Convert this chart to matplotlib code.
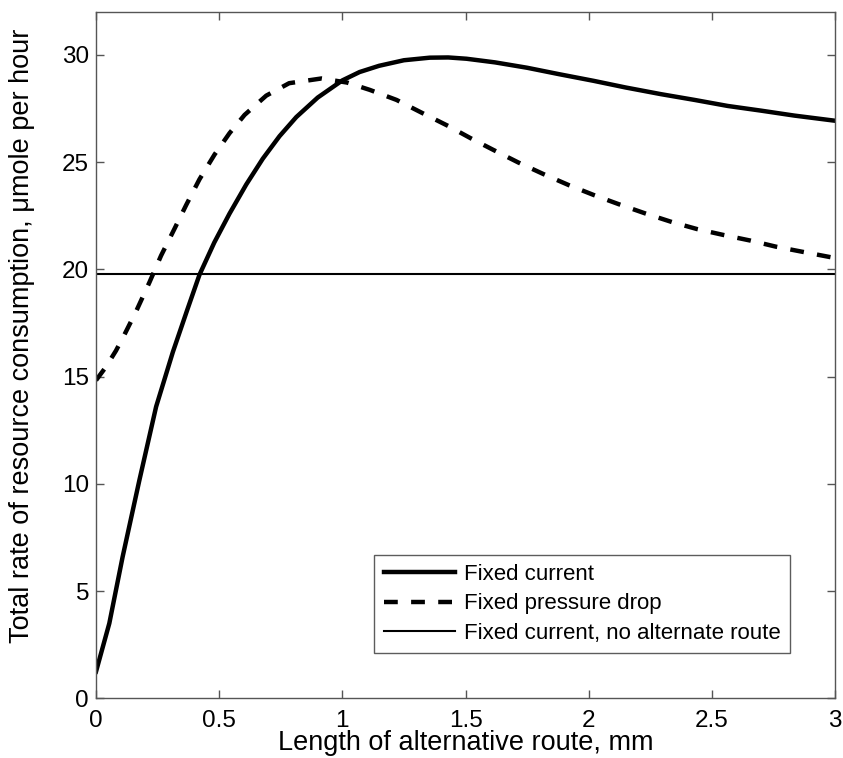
import matplotlib.pyplot as plt
import numpy as np

plt.rcParams['font.family'] = ['Liberation Sans', 'DejaVu Sans']

# Fixed current
x_current = [0, 0.054, 0.108, 0.176, 0.244, 0.312, 0.37, 0.42, 0.48, 0.542, 0.61, 0.677,
             0.745, 0.813, 0.9, 1.0, 1.07, 1.149, 1.25, 1.355, 1.43, 1.504, 1.62, 1.75,
             1.88, 2.02, 2.15, 2.293, 2.43, 2.564, 2.7, 2.835, 3.0]
y_current = [1.25, 3.5, 6.6, 10.17, 13.6, 16.15, 18.1, 19.75, 21.25, 22.6, 23.96, 25.16,
             26.21, 27.1, 28.01, 28.81, 29.2, 29.49, 29.75, 29.87, 29.88, 29.82, 29.65, 29.4,
             29.1, 28.79, 28.48, 28.17, 27.9, 27.62, 27.4, 27.17, 26.93]

# Fixed pressure drop
x_pressure = [0, 0.04, 0.081, 0.115, 0.163, 0.217, 0.264, 0.318, 0.366, 0.42, 0.481, 0.542,
              0.603, 0.691, 0.784, 0.915, 1.019, 1.111, 1.22, 1.321, 1.429, 1.52, 1.613,
              1.715, 1.817, 1.919, 2.02, 2.122, 2.232, 2.34, 2.44, 2.549, 2.658, 2.76,
              2.868, 3.0]
y_pressure = [14.83, 15.45, 16.21, 16.95, 18.05, 19.4, 20.64, 21.88, 23.0, 24.2, 25.35, 26.35,
              27.2, 28.1, 28.68, 28.9, 28.71, 28.37, 27.9, 27.31, 26.69, 26.12, 25.57,
              24.98, 24.44, 23.93, 23.47, 23.04, 22.6, 22.2, 21.88, 21.6, 21.34, 21.06,
              20.82, 20.53]

# Fixed current, no alternate route
no_route = 19.8

fig = plt.figure(figsize=(8.43, 7.58), dpi=100)
ax = fig.add_axes([0.1139, 0.0786, 0.8766, 0.9056])

ax.plot(x_current, y_current, 'k-', linewidth=3.2, label='Fixed current')
ax.plot(x_pressure, y_pressure, 'k--', linewidth=3.2, dashes=(3.1, 3.0), label='Fixed pressure drop')
ax.axhline(no_route, color='k', linewidth=1.5, label='Fixed current, no alternate route')

ax.set_xlim(0, 3)
ax.set_ylim(0, 32)
ax.set_xticks(np.arange(0, 3.01, 0.5))
ax.set_xticklabels(['0', '0.5', '1', '1.5', '2', '2.5', '3'])
ax.set_yticks(np.arange(0, 31, 5))
ax.tick_params(direction='in', top=True, right=True, length=6, width=1,
               labelsize=17.5, color='#555555')
ax.tick_params(axis='x', pad=8)
ax.tick_params(axis='y', pad=5)
for s in ax.spines.values():
    s.set_color('#555555')
    s.set_linewidth(1)

ax.set_xlabel('Length of alternative route, mm', fontsize=19.5, labelpad=-1)
ax.set_ylabel('Total rate of resource consumption, μmole per hour', fontsize=19.5)
ax.yaxis.set_label_coords(-0.0825, 0.528)

leg = ax.legend(loc='lower right', bbox_to_anchor=(0.939, 0.066), fontsize=16,
                frameon=True, fancybox=False, handlelength=3.2, handletextpad=0.4,
                borderpad=0.42, labelspacing=0.38, borderaxespad=0)
leg.get_frame().set_edgecolor('#333333')
leg.get_frame().set_linewidth(1)

plt.savefig('out.png')
